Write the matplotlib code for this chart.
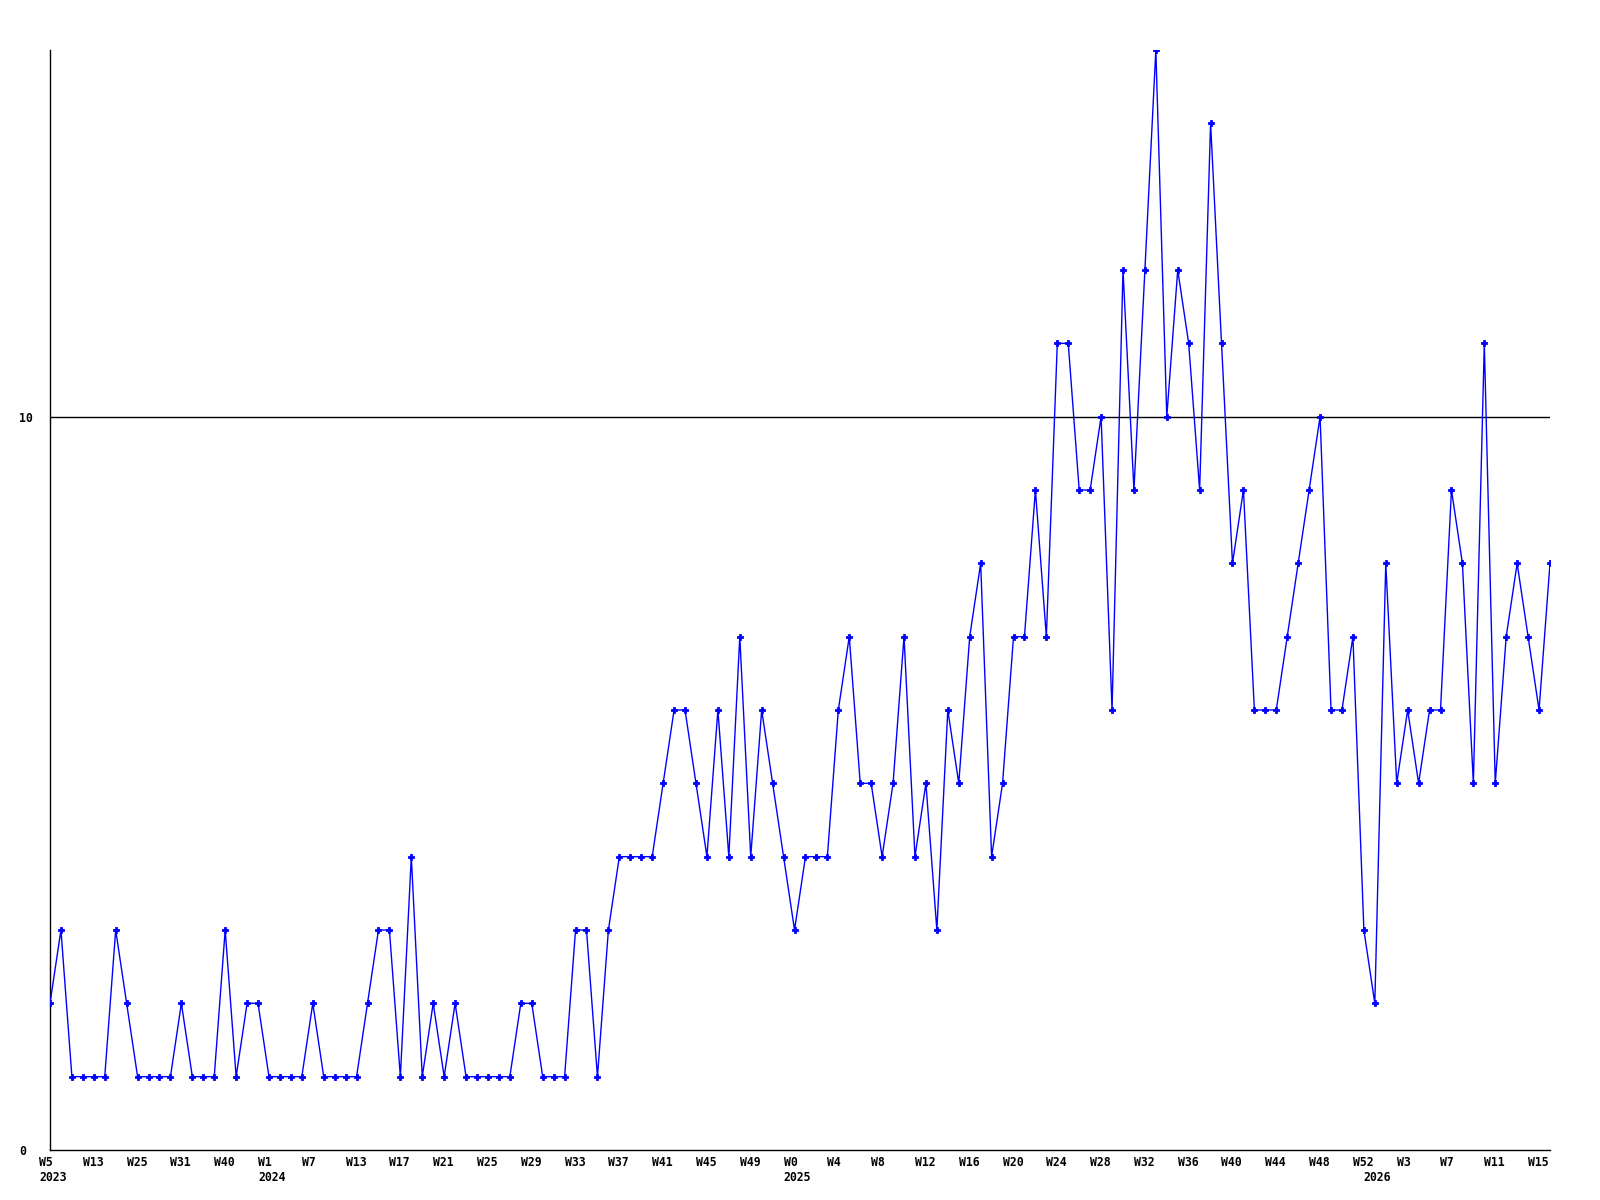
import matplotlib
matplotlib.use("Agg")
import matplotlib.pyplot as plt
import matplotlib.transforms as mtransforms

# weekly counts, one per point (138 points)
values = [
    2, 3, 1, 1, 1, 1, 3, 2, 1, 1, 1, 1, 2, 1, 1, 1, 3, 1, 2, 2,
    1, 1, 1, 1, 2, 1, 1, 1, 1, 2, 3, 3, 1, 4, 1, 2, 1, 2, 1, 1,
    1, 1, 1, 2, 2, 1, 1, 1, 3, 3, 1, 3, 4, 4, 4, 4, 5, 6, 6, 5,
    4, 6, 4, 7, 4, 6, 5, 4, 3, 4, 4, 4, 6, 7, 5, 5, 4, 5, 7, 4,
    5, 3, 6, 5, 7, 8, 4, 5, 7, 7, 9, 7, 11, 11, 9, 9, 10, 6, 12, 9,
    12, 15, 10, 12, 11, 9, 14, 11, 8, 9, 6, 6, 6, 7, 8, 9, 10, 6, 6, 7,
    3, 2, 8, 5, 6, 5, 6, 6, 9, 8, 5, 11, 5, 7, 8, 7, 6, 8,
]
# labels shown on every 4th point
week_labels = [
    "W5", "W13", "W25", "W31", "W40",
    "W1", "W7", "W13", "W17", "W21", "W25", "W29", "W33", "W37", "W41", "W45", "W49",
    "W0", "W4", "W8", "W12", "W16", "W20", "W24", "W28", "W32", "W36", "W40", "W44", "W48", "W52",
    "W3", "W7", "W11", "W15",
]
years = ["2023", "2024", "2025", "2026"]
year_pos = [0, 20, 68, 121]  # index of the first point of each year

font = {"family": "DejaVu Sans Mono", "weight": "bold", "size": 8.3}

fig = plt.figure(figsize=(16, 12), dpi=100)
ax = fig.add_axes([50 / 1600, 50 / 1200, 1500 / 1600, 1100 / 1200])

x = list(range(len(values)))
ax.axhline(10, color="black", lw=1.0, zorder=1)
ax.plot(x, values, color="#0000ff", lw=1.0, marker="P", markersize=5,
        markeredgewidth=0.6, zorder=3)

ax.set_xlim(0, len(values) - 1)
ax.set_ylim(0, 15)
for side in ("top", "right"):
    ax.spines[side].set_visible(False)
for side in ("left", "bottom"):
    ax.spines[side].set_color("black")
    ax.spines[side].set_linewidth(1.0)

# y ticks: labels left aligned at x=19px
ax.set_yticks([0, 10])
ax.set_yticklabels(["0", "10"], fontdict=font)
ax.tick_params(axis="y", length=0, pad=31 * 72 / 100)
for lbl in ax.get_yticklabels():
    lbl.set_horizontalalignment("left")

# x ticks: week labels every 4 points, left aligned 11px before point
shift = mtransforms.ScaledTranslation(-11 / 100, 0, fig.dpi_scale_trans)
ax.set_xticks(x[::4])
ax.set_xticklabels(week_labels, fontdict=font)
ax.tick_params(axis="x", length=0, pad=4)
for lbl in ax.get_xticklabels():
    lbl.set_horizontalalignment("left")
    lbl.set_transform(lbl.get_transform() + shift)

# year labels under the first week of each year
for pos, yr in zip(year_pos, years):
    ax.annotate(yr, xy=(pos, 0), xycoords=("data", "axes fraction"),
                xytext=(-11 * 0.72, -15.3), textcoords="offset points",
                ha="left", va="top", annotation_clip=False, **font)

fig.savefig("out.png", dpi=100, facecolor="white")
